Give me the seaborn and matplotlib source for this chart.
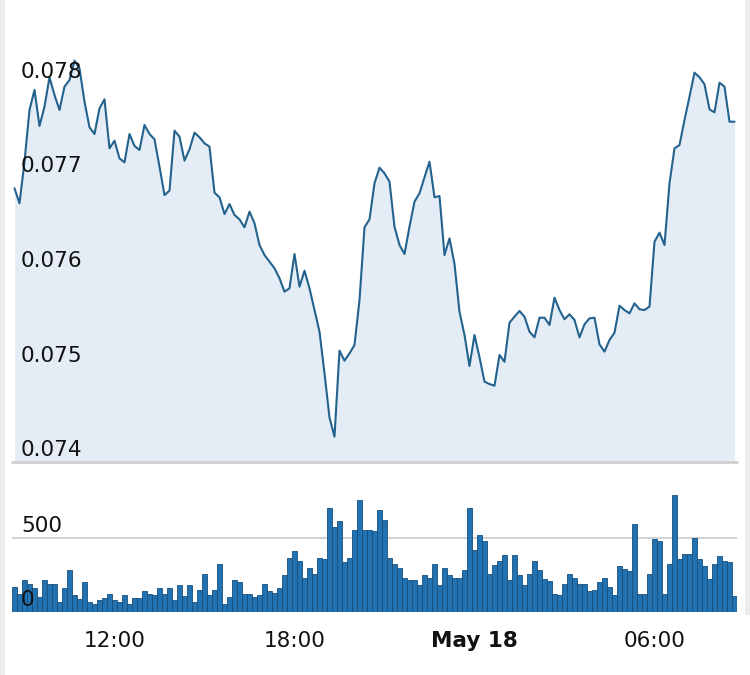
import pandas as pd
import seaborn as sns
import matplotlib.pyplot as plt
from matplotlib.transforms import offset_copy
from matplotlib.patches import Rectangle

# 10-minute samples, May 17 08:40 -> May 18 08:40
times = pd.date_range("2023-05-17 08:40", periods=145, freq="10min")

price = [0.076896, 0.076738, 0.077178, 0.077725, 0.077937, 0.077556, 0.077760, 0.078071, 0.077884, 0.077725,
         0.077972, 0.078042, 0.078247, 0.078166, 0.077813, 0.077542, 0.077471, 0.077742, 0.077838, 0.077319,
         0.077400, 0.077213, 0.077171, 0.077471, 0.077344, 0.077302, 0.077566, 0.077471, 0.077415, 0.077125,
         0.076825, 0.076871, 0.077506, 0.077443, 0.077189, 0.077309, 0.077485, 0.077436, 0.077372, 0.077337,
         0.076850, 0.076801, 0.076624, 0.076730, 0.076614, 0.076568, 0.076483, 0.076649, 0.076526, 0.076296,
         0.076190, 0.076120, 0.076050, 0.075944, 0.075802, 0.075838, 0.076201, 0.075855, 0.076024, 0.075838,
         0.075608, 0.075379, 0.074940, 0.074470, 0.074268, 0.075178, 0.075072, 0.075150, 0.075238, 0.075714,
         0.076483, 0.076568, 0.076949, 0.077115, 0.077055, 0.076966, 0.076490, 0.076296, 0.076201, 0.076490,
         0.076755, 0.076843, 0.077013, 0.077178, 0.076801, 0.076815, 0.076190, 0.076367, 0.076095, 0.075590,
         0.075344, 0.075016, 0.075344, 0.075108, 0.074850, 0.074825, 0.074807, 0.075132, 0.075061, 0.075474,
         0.075538, 0.075598, 0.075538, 0.075379, 0.075319, 0.075527, 0.075527, 0.075450, 0.075739, 0.075608,
         0.075510, 0.075563, 0.075503, 0.075319, 0.075457, 0.075520, 0.075527, 0.075245, 0.075168, 0.075291,
         0.075368, 0.075654, 0.075608, 0.075573, 0.075679, 0.075616, 0.075608, 0.075644, 0.076331, 0.076427,
         0.076296, 0.076949, 0.077319, 0.077354, 0.077619, 0.077866, 0.078120, 0.078071, 0.077997, 0.077732,
         0.077700, 0.078014, 0.077972, 0.077601, 0.077601]

volume = [169, 124, 218, 191, 164, 101, 218, 191, 191, 68,
          164, 286, 113, 90, 203, 68, 52, 79, 97, 124,
          83, 68, 113, 56, 97, 97, 140, 124, 113, 164,
          124, 164, 83, 180, 106, 180, 68, 151, 259, 113,
          151, 327, 56, 101, 218, 203, 124, 124, 101, 113,
          191, 140, 128, 164, 248, 367, 410, 342, 232, 300,
          259, 367, 356, 705, 574, 613, 338, 367, 556, 759,
          556, 556, 545, 691, 624, 367, 327, 300, 232, 218,
          218, 180, 248, 232, 327, 180, 300, 248, 232, 232,
          286, 705, 421, 518, 477, 259, 315, 342, 383, 214,
          383, 248, 180, 259, 342, 286, 221, 209, 124, 113,
          191, 259, 232, 191, 191, 140, 151, 203, 232, 169,
          113, 313, 291, 275, 597, 124, 124, 259, 491, 477,
          124, 327, 788, 356, 390, 390, 502, 356, 313, 221,
          327, 378, 342, 338, 108]

price_ticks = [0.074, 0.075, 0.076, 0.077, 0.078]
volume_ticks = [0, 500]
tick_times = pd.to_datetime(["2023-05-17 12:00", "2023-05-17 18:00", "2023-05-18 00:00", "2023-05-18 06:00"])
tick_labels = ["12:00", "18:00", "May 18", "06:00"]

day0 = pd.Timestamp("2023-05-17")
hours = (times - day0) / pd.Timedelta(hours=1)
tick_hours = (tick_times - day0) / pd.Timedelta(hours=1)
df = pd.DataFrame({"hour": hours, "price": price, "volume": volume})

sns.set_style("white")
plt.rcParams["font.family"] = ["DejaVu Sans"]

line_col = "#24628e"
fill_col = "#e4edf5"
bar_col = "#2271b1"
bar_edge = "#174f7c"
txt_col = "#111111"

fig = plt.figure(figsize=(7.5, 6.75), dpi=100)
W, H = 750, 675
step = 1 / 6
xlim = (hours[0] - step / 2, hours[-1] + step / 2)

# price panel
ax1 = fig.add_axes([12 / W, 1 - 462 / H, 725 / W, 442 / H])
ax1.fill_between(df["hour"], df["price"], 0.074, color=fill_col, lw=0)
sns.lineplot(data=df, x="hour", y="price", ax=ax1, color=line_col, lw=1.5)
ax1.set_xlim(xlim)
ax1.set_ylim(0.074, 0.074 + 442 / 94500)
ax1.axhline(0.074, color="#cfcfcf", lw=2, clip_on=False)
ax1.set_xticks([])
ax1.set_yticks([])
ax1.set_xlabel("")
ax1.set_ylabel("")
sns.despine(ax=ax1, left=True, bottom=True)
tr1 = offset_copy(ax1.get_yaxis_transform(), fig=fig, x=9, y=6, units="dots")
for v in price_ticks:
    ax1.text(0, v, f"{v:.3f}", transform=tr1, ha="left", va="baseline",
             fontsize=15.5, color=txt_col)

# volume panel
ax2 = fig.add_axes([12 / W, 1 - 612 / H, 725 / W, 146 / H])
ax2.axhline(500, color="#d3d3d3", lw=1.5, zorder=0)
sns.barplot(data=df, x="hour", y="volume", ax=ax2, native_scale=True, width=0.9,
            color=bar_col, saturation=1, edgecolor=bar_edge, linewidth=0.6, zorder=2)
ax2.set_xlim(xlim)
ax2.set_ylim(0, 146 / 74 * 500)
ax2.set_yticks([])
ax2.set_xlabel("")
ax2.set_ylabel("")
ax2.set_xticks(tick_hours)
ax2.set_xticklabels(tick_labels, fontsize=15.5, color=txt_col)
ax2.get_xticklabels()[2].set_fontweight("bold")
ax2.tick_params(axis="x", length=0, pad=14)
sns.despine(ax=ax2, left=True, bottom=True)
tr2 = offset_copy(ax2.get_yaxis_transform(), fig=fig, x=9, y=6, units="dots")
for v in volume_ticks:
    ax2.text(0, v, str(v), transform=tr2, ha="left", va="baseline",
             fontsize=15.5, color=txt_col, zorder=5)

# light side borders of the container
fig.add_artist(Rectangle((0, 0), 5 / W, 1, transform=fig.transFigure, color="#ececec", lw=0))
fig.add_artist(Rectangle((745 / W, 1 - 615 / H), 5 / W, 615 / H, transform=fig.transFigure,
                         color="#ececec", lw=0))

fig.savefig("out.png", dpi=100)
